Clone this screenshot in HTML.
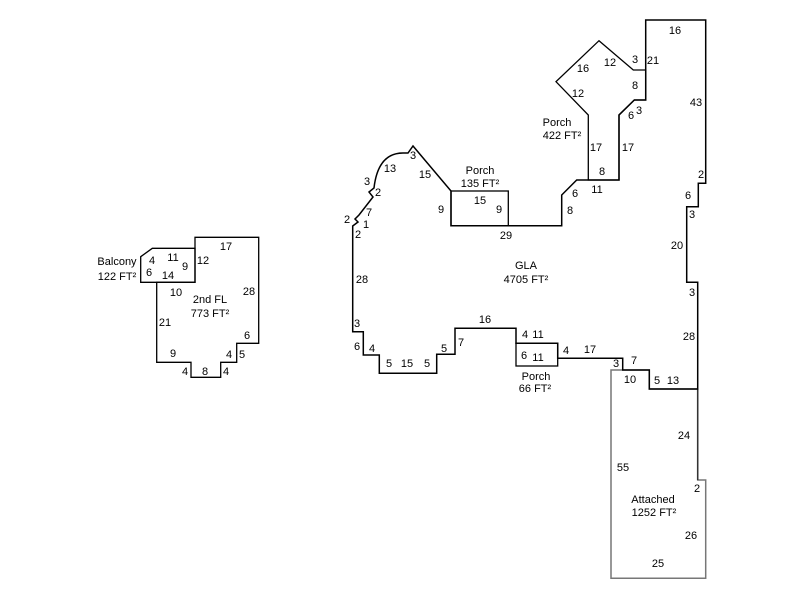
<!DOCTYPE html>
<html><head><meta charset="utf-8"><style>
html,body{margin:0;padding:0;background:#fff;}
svg text{font-family:"Liberation Sans",Arial,sans-serif;font-size:11px;fill:#000;text-anchor:middle;}
</style></head><body>
<svg width="800" height="600" viewBox="0 0 800 600" xmlns="http://www.w3.org/2000/svg">
<g fill="none" stroke-linejoin="miter">
<polygon points="611,370 649.3,370 649.3,389 697.7,389 697.7,480 705.7,480 705.7,578.3 611,578.3" stroke="#777" stroke-width="1.5"/>
<line x1="697.7" y1="389" x2="697.7" y2="480" stroke="#333" stroke-width="1.5"/>
<path d="M352.7,226 L358,222 L355,219 L359,215 L373,197 L369,192 L374,188 Q378,153 403,153 L408,153 L413,146 L451,191 L451,225.7 L561.7,225.7 L561.7,195 L576.7,180 L619,180 L619,115 L634.3,100 L645.7,100 L645.7,20 L705.7,20 L705.7,183.3 L698.3,183.3 L698.3,206.7 L686.7,206.7 L686.7,282.3 L697.7,282.3 L697.7,389 L649.3,389 L649.3,370 L622.7,370 L622.7,358.3 L557.7,358.3 L557.7,343.3 L516,343.3 L516,328.3 L455,328.3 L455,354.3 L436.7,354.3 L436.7,373.3 L379.3,373.3 L379.3,355 L363.3,355 L363.3,331.7 L352.7,331.7 Z" stroke="#000" stroke-width="1.5"/>
<rect x="451" y="191" width="57.3" height="34.7" stroke="#000" stroke-width="1.3"/>
<rect x="516" y="343.3" width="41.7" height="22.7" stroke="#000" stroke-width="1.3"/>
<polygon points="588.3,180 588.3,115 556,81.7 599,40.7 633.3,70 645.7,70 645.7,100 634.3,100 619,115 619,180" stroke="#000" stroke-width="1.3"/>
<polygon points="195,237.3 258.7,237.3 258.7,343.3 236.7,343.3 236.7,362.3 220.7,362.3 220.7,377.3 191,377.3 191,362.3 156.7,362.3 156.7,282.3 195,282.3" stroke="#000" stroke-width="1.3"/>
<polygon points="140.7,256.7 152.3,248.3 195,248.3 195,282.3 140.7,282.3" stroke="#000" stroke-width="1.3"/>
</g>
<g>
<text x="675" y="34">16</text><text x="653" y="64">21</text><text x="635" y="63">3</text><text x="610" y="66">12</text><text x="583" y="72">16</text><text x="635" y="89">8</text><text x="578" y="97">12</text><text x="696" y="106">43</text><text x="631" y="119">6</text><text x="639" y="114">3</text>
<text x="557" y="126">Porch</text><text x="562" y="139">422 FT²</text><text x="596" y="151">17</text><text x="628" y="151">17</text><text x="602" y="175">8</text><text x="597" y="193">11</text><text x="575" y="197">6</text><text x="570" y="214">8</text>
<text x="701" y="178">2</text><text x="688" y="199">6</text><text x="692" y="218">3</text><text x="677" y="249">20</text><text x="692" y="296">3</text><text x="689" y="340">28</text><text x="634" y="364">7</text><text x="616" y="367">3</text><text x="630" y="383">10</text><text x="657" y="384">5</text><text x="673" y="384">13</text><text x="684" y="439">24</text><text x="623" y="471">55</text><text x="697" y="492">2</text><text x="653" y="503">Attached</text><text x="654" y="516">1252 FT²</text><text x="691" y="539">26</text><text x="658" y="567">25</text>
<text x="390" y="172">13</text><text x="413" y="159">3</text><text x="425" y="178">15</text><text x="367" y="185">3</text><text x="378" y="196">2</text><text x="480" y="174">Porch</text><text x="480" y="187">135 FT²</text><text x="480" y="204">15</text><text x="441" y="213">9</text><text x="499" y="213">9</text><text x="347" y="223">2</text><text x="369" y="216">7</text><text x="366" y="228">1</text><text x="358" y="238">2</text><text x="506" y="239">29</text><text x="526" y="269">GLA</text><text x="526" y="283">4705 FT²</text><text x="362" y="283">28</text><text x="485" y="323">16</text><text x="525" y="338">4</text><text x="538" y="338">11</text><text x="357" y="327">3</text><text x="357" y="350">6</text><text x="372" y="352">4</text><text x="461" y="346">7</text><text x="444" y="352">5</text><text x="389" y="367">5</text><text x="407" y="367">15</text><text x="427" y="367">5</text><text x="524" y="359">6</text><text x="538" y="361">11</text><text x="566" y="354">4</text><text x="590" y="353">17</text><text x="536" y="380">Porch</text><text x="535" y="392">66 FT²</text>
<text x="226" y="250">17</text><text x="117" y="265">Balcony</text><text x="117" y="280">122 FT²</text><text x="152" y="264">4</text><text x="173" y="261">11</text><text x="185" y="270">9</text><text x="203" y="264">12</text><text x="149" y="276">6</text><text x="168" y="279">14</text><text x="249" y="295">28</text><text x="176" y="296">10</text><text x="210" y="303">2nd FL</text><text x="210" y="317">773 FT²</text><text x="165" y="326">21</text><text x="247" y="339">6</text><text x="173" y="357">9</text><text x="229" y="358">4</text><text x="242" y="358">5</text><text x="185" y="375">4</text><text x="205" y="375">8</text><text x="226" y="375">4</text>
</g>
</svg>
</body></html>
